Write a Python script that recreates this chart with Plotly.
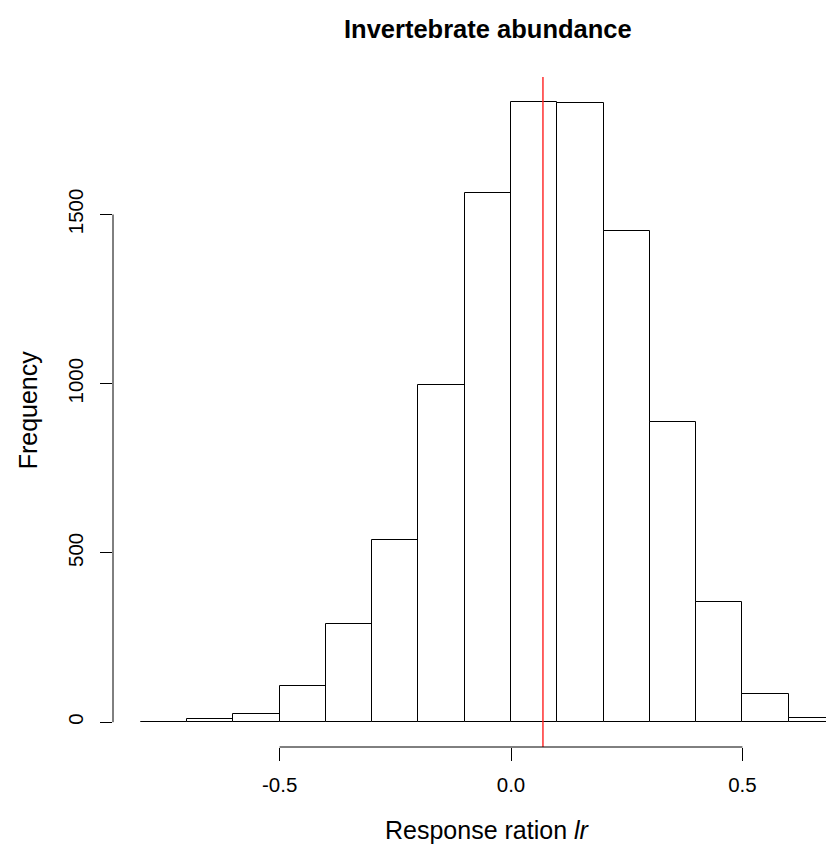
import plotly.graph_objects as go

# Histogram data (bin edges of width 0.1)
bin_left = [-0.8, -0.7, -0.6, -0.5, -0.4, -0.3, -0.2, -0.1, 0.0, 0.1, 0.2, 0.3, 0.4, 0.5, 0.6]
counts = [2, 8, 25, 108, 291, 539, 995, 1563, 1833, 1830, 1451, 888, 354, 84, 12]
bin_width = 0.1
mean_line = 0.069

x_ticks = [-0.5, 0.0, 0.5]
x_tick_text = ["-0.5", "0.0", "0.5"]
y_ticks = [0, 500, 1000, 1500]
y_tick_text = ["0", "500", "1000", "1500"]

title_text = "<b>Invertebrate abundance</b>"
xlab = "Response ration <i>lr</i>"
ylab = "Frequency"

W, H = 826, 847
L, R, T, B = 113.3, 0, 77.3, 99.7
FONT = "Liberation Sans, Arial, Helvetica, sans-serif"

x_range = [-0.86, 0.6806]
y_range = [-73.3, 1906.3]

centers = [b + bin_width / 2 for b in bin_left]

fig = go.Figure()
fig.add_trace(go.Bar(
    x=centers, y=counts, width=[bin_width] * len(counts),
    marker=dict(color="white", line=dict(color="black", width=1)),
    hoverinfo="x+y", showlegend=False,
))

# red vertical line across plot region
fig.add_shape(type="line", xref="x", yref="paper", x0=mean_line, x1=mean_line,
              y0=0, y1=1, line=dict(color="#ff2020", width=1.4), layer="above")

# R-style detached axis lines spanning first..last tick
fig.add_shape(type="line", xref="x", yref="paper", x0=min(x_ticks), x1=max(x_ticks),
              y0=0, y1=0, line=dict(color="black", width=1))
fig.add_shape(type="line", xref="paper", yref="y", x0=0, x1=0,
              y0=min(y_ticks), y1=max(y_ticks), line=dict(color="black", width=1))

pw = W - L - R
ph = H - T - B
cx = (488 - L) / pw

fig.update_layout(
    width=W, height=H,
    margin=dict(l=L, r=R, t=T, b=B, pad=0),
    paper_bgcolor="white", plot_bgcolor="white",
    font=dict(family=FONT, color="black", size=20.5),
    bargap=0,
    xaxis=dict(range=x_range, showgrid=False, zeroline=False, showline=False,
               tickmode="array", tickvals=x_ticks, ticktext=x_tick_text,
               ticks="outside", ticklen=12.7, tickwidth=1, tickcolor="black",
               ticklabelstandoff=7, tickfont=dict(size=20.5, family=FONT, color="black")),
    yaxis=dict(range=y_range, showgrid=False, zeroline=False, showline=False,
               tickmode="array", tickvals=y_ticks, ticktext=y_tick_text,
               ticks="outside", ticklen=12.3, tickwidth=1, tickcolor="black",
               tickangle=-90, ticklabelstandoff=9,
               tickfont=dict(size=20.5, family=FONT, color="black")),
    annotations=[
        dict(text=title_text, xref="paper", yref="paper", x=cx, y=(H - B - 29) / ph,
             xanchor="center", yanchor="middle", showarrow=False,
             font=dict(size=25.5, family=FONT, color="black")),
        dict(text=xlab, xref="paper", yref="paper", x=cx, y=(H - B - 830) / ph,
             xanchor="center", yanchor="middle", showarrow=False,
             font=dict(size=25, family=FONT, color="black")),
        dict(text=ylab, xref="paper", yref="paper", x=(28 - L) / pw, y=(H - B - 410) / ph,
             xanchor="center", yanchor="middle", showarrow=False, textangle=-90,
             font=dict(size=25, family=FONT, color="black")),
    ],
)

fig.write_html("out.html")
